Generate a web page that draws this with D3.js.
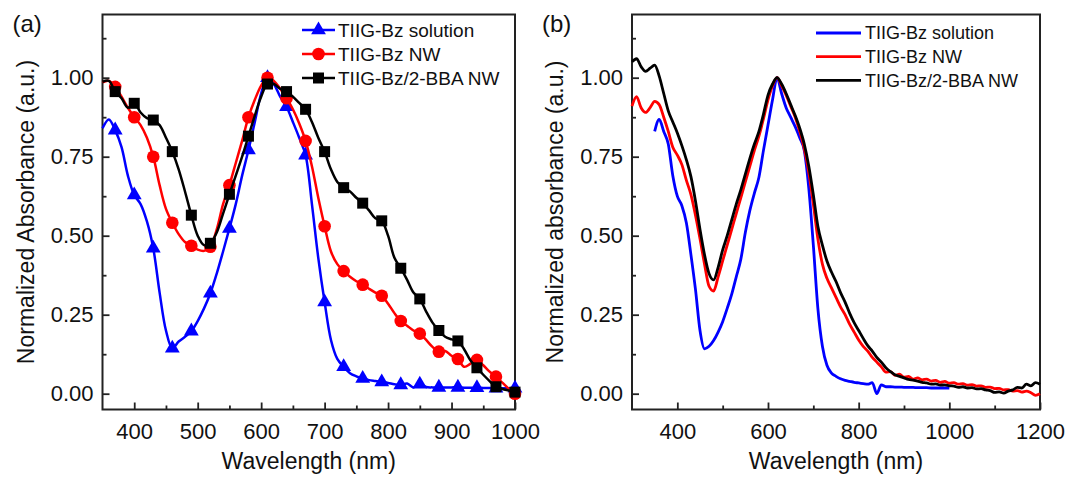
<!DOCTYPE html>
<html>
<head>
<meta charset="utf-8">
<script src="https://cdn.jsdelivr.net/npm/d3@7"></script>
<style>
body { margin: 0; background: #fff; }
svg { font-family: Arial, "Liberation Sans", sans-serif; }
</style>
</head>
<body>
<svg id="chart" width="1067" height="477"></svg>
<script>
// ---- data ----
const seriesNames = ["TIIG-Bz solution", "TIIG-Bz NW", "TIIG-Bz/2-BBA NW"];
const seriesColors = ["#0000ff", "#ff0000", "#000000"];

// panel (a): wavelength grid (nm)
const wlA = [350,360,370,380,390,400,410,420,430,440,450,460,470,480,490,500,510,520,530,540,
  550,560,570,580,590,600,610,620,630,640,650,660,670,680,690,700,710,720,730,740,
  750,760,770,780,790,800,810,820,830,840,850,860,870,880,890,900,910,920,930,940,
  950,960,970,980,990,1000];
const solutionA = [0.84,0.868,0.834,0.78,0.69,0.629,0.6,0.545,0.46,0.32,0.2,0.144,0.165,0.18,0.198,0.23,0.27,0.318,0.38,0.45,
  0.523,0.6,0.69,0.771,0.86,0.95,1.0,0.98,0.94,0.908,0.86,0.81,0.755,0.6,0.43,0.29,0.17,0.11,0.085,0.065,
  0.055,0.048,0.043,0.04,0.037,0.034,0.03,0.028,0.032,0.02,0.03,0.021,0.02,0.02,0.02,0.02,0.02,0.019,0.019,0.019,
  0.018,0.018,0.017,0.017,0.017,0.017];
const nwA = [0.985,0.99,0.971,0.94,0.905,0.875,0.85,0.81,0.75,0.66,0.585,0.541,0.505,0.48,0.468,0.456,0.452,0.465,0.52,0.6,
  0.66,0.73,0.8,0.875,0.93,0.975,1.0,0.99,0.965,0.935,0.9,0.855,0.8,0.72,0.62,0.53,0.45,0.41,0.388,0.37,
  0.356,0.345,0.332,0.32,0.31,0.285,0.255,0.23,0.215,0.2,0.19,0.17,0.148,0.133,0.135,0.12,0.11,0.085,0.095,0.107,
  0.09,0.07,0.054,0.035,0.016,0.0];
const bbaA = [0.987,0.99,0.956,0.935,0.905,0.919,0.89,0.872,0.866,0.85,0.81,0.766,0.71,0.64,0.565,0.5,0.47,0.476,0.51,0.57,
  0.631,0.69,0.75,0.815,0.88,0.94,0.98,0.98,0.965,0.956,0.94,0.92,0.9,0.86,0.81,0.766,0.71,0.67,0.652,0.64,
  0.62,0.603,0.58,0.555,0.547,0.5,0.43,0.397,0.36,0.32,0.3,0.26,0.225,0.2,0.18,0.172,0.167,0.14,0.105,0.082,
  0.06,0.04,0.022,0.015,0.01,0.005];
// wavelengths carrying a symbol
const markerWl = [370,400,430,460,490,520,550,580,610,640,670,700,730,760,790,820,850,880,910,940,970,1000];

// panel (b): wavelength grid (nm)
const wlB = [300,310,320,330,340,350,360,370,380,390,400,410,420,430,440,450,460,470,480,490,
  500,510,520,530,540,550,560,570,580,590,600,610,620,630,640,650,660,670,680,690,
  700,710,720,730,740,750,760,770,780,790,800,810,820,830,840,850,860,870,880,890,
  900,910,920,930,940,950,960,970,980,990,1000,1010,1020,1030,1040,1050,1060,1070,1080,1090,
  1100,1110,1120,1130,1140,1150,1160,1170,1180,1190,1200];
const solutionB = [null,null,null,null,null,0.83,0.868,0.83,0.79,0.69,0.625,0.595,0.54,0.44,0.33,0.2,0.142,0.15,0.168,0.195,
  0.228,0.27,0.315,0.37,0.425,0.51,0.58,0.635,0.685,0.77,0.85,0.93,1.0,0.95,0.905,0.875,0.845,0.81,0.77,0.65,
  0.47,0.27,0.15,0.09,0.065,0.055,0.047,0.042,0.039,0.036,0.034,0.032,0.03,0.035,0.0,0.028,0.022,0.022,0.021,0.021,
  0.02,0.02,0.02,0.019,0.019,0.019,0.018,0.018,0.018,0.018,0.018,null,null,null,null,null,null,null,null,null,
  null,null,null,null,null,null,null,null,null,null,null];
const nwB = [0.91,0.94,0.905,0.89,0.905,0.925,0.915,0.875,0.83,0.78,0.755,0.725,0.675,0.63,0.565,0.49,0.41,0.34,0.325,0.37,
  0.42,0.47,0.52,0.57,0.62,0.67,0.72,0.77,0.815,0.87,0.93,0.975,1.0,0.975,0.945,0.91,0.875,0.83,0.775,0.7,
  0.6,0.49,0.41,0.365,0.335,0.305,0.275,0.25,0.22,0.195,0.17,0.15,0.135,0.115,0.1,0.085,0.068,0.07,0.058,0.062,
  0.052,0.055,0.046,0.05,0.044,0.046,0.04,0.042,0.036,0.039,0.033,0.035,0.03,0.032,0.027,0.029,0.024,0.025,0.02,0.021,
  0.016,0.017,0.012,0.013,0.008,0.01,0.005,0.008,0.003,-0.005,0.0];
const bbaB = [1.05,1.06,1.035,1.02,1.03,1.04,1.005,0.95,0.895,0.86,0.825,0.785,0.74,0.687,0.61,0.52,0.44,0.38,0.36,0.4,
  0.455,0.5,0.55,0.6,0.645,0.695,0.745,0.79,0.83,0.885,0.945,0.98,1.0,0.98,0.95,0.915,0.88,0.84,0.79,0.72,
  0.63,0.53,0.47,0.42,0.385,0.355,0.32,0.29,0.255,0.225,0.2,0.175,0.152,0.135,0.115,0.1,0.082,0.07,0.06,0.055,
  0.05,0.045,0.043,0.04,0.036,0.034,0.03,0.031,0.027,0.028,0.025,0.024,0.02,0.022,0.018,0.019,0.015,0.016,0.012,0.01,
  0.004,0.006,0.002,0.008,0.012,0.02,0.018,0.03,0.025,0.035,0.03];

const yMajor = [0, 0.25, 0.5, 0.75, 1.0];
const yMinor = [0.125, 0.375, 0.625, 0.875, 1.125];
const xMajorA = [400, 500, 600, 700, 800, 900, 1000];
const xMinorA = [450, 550, 650, 750, 850, 950];
const xMajorB = [400, 600, 800, 1000, 1200];
const xMinorB = [500, 700, 900, 1100];

// ---- layout ----
const plotTop = 14.5, plotBottom = 409.5;
const svg = d3.select("#chart");

const y = d3.scaleLinear().domain([-0.05, 1.2]).range([plotBottom, plotTop]);
const xA = d3.scaleLinear().domain([350, 1000]).range([102.5, 515]);
const xB = d3.scaleLinear().domain([300, 1200]).range([632, 1040]);

function drawAxes(x, xMajor, xMinor, yTitle, tag) {
    const [x0, x1] = x.range();
    const g = svg.append("g");

    g.append("g")
        .attr("transform", `translate(0,${plotBottom})`)
        .call(d3.axisBottom(x).tickValues(xMajor).tickSizeInner(-7).tickSizeOuter(0)
            .tickPadding(14).tickFormat(d3.format("d")));
    g.append("g")
        .attr("transform", `translate(0,${plotBottom})`)
        .call(d3.axisBottom(x).tickValues(xMinor).tickSizeInner(-4).tickSizeOuter(0).tickFormat(""));
    g.append("g")
        .attr("transform", `translate(${x0},0)`)
        .call(d3.axisLeft(y).tickValues(yMajor).tickSizeInner(-7).tickSizeOuter(0)
            .tickPadding(9).tickFormat(d3.format(".2f")));
    g.append("g")
        .attr("transform", `translate(${x0},0)`)
        .call(d3.axisLeft(y).tickValues(yMinor).tickSizeInner(-4).tickSizeOuter(0).tickFormat(""));

    g.selectAll(".domain").remove();
    g.selectAll(".tick line").attr("stroke", "#222").attr("stroke-width", 1.8);
    g.selectAll(".tick text").attr("font-size", 22).attr("fill", "#111")
        .attr("font-family", "Arial, 'Liberation Sans', sans-serif");

    g.append("rect")
        .attr("x", x0).attr("y", plotTop)
        .attr("width", x1 - x0).attr("height", plotBottom - plotTop)
        .attr("fill", "none").attr("stroke", "#222").attr("stroke-width", 2);

    svg.append("text")
        .attr("x", (x0 + x1) / 2).attr("y", 469)
        .attr("text-anchor", "middle").attr("font-size", 23).attr("fill", "#111")
        .text("Wavelength (nm)");

    svg.append("text")
        .attr("transform", `translate(${x0 - 69},${(plotTop + plotBottom) / 2}) rotate(-90)`)
        .attr("text-anchor", "middle").attr("font-size", 23).attr("fill", "#111")
        .text(yTitle);

    svg.append("text")
        .attr("x", x0 - 90).attr("y", 32)
        .attr("font-size", 24).attr("fill", "#111")
        .text(tag);
}

drawAxes(xA, xMajorA, xMinorA, "Normalized Absorbance (a.u.)", "(a)");
drawAxes(xB, xMajorB, xMinorB, "Normalized absorbance (a.u.)", "(b)");

// ---- panel (a) curves with symbols ----
const symbolsA = [d3.symbolTriangle, d3.symbolCircle, d3.symbolSquare];
const symbolSize = [95, 125, 121];
const valuesA = [solutionA, nwA, bbaA];

const lineA = d3.line()
    .x(d => xA(d[0])).y(d => y(d[1]))
    .curve(d3.curveCatmullRom.alpha(0.5));

valuesA.forEach((vals, i) => {
    const pts = wlA.map((w, k) => [w, vals[k]]);
    svg.append("path")
        .datum(pts)
        .attr("d", lineA)
        .attr("fill", "none")
        .attr("stroke", seriesColors[i])
        .attr("stroke-width", 2.5)
        .attr("stroke-linejoin", "round");

    const lookup = new Map(pts);
    svg.append("g").selectAll("path")
        .data(markerWl)
        .join("path")
        .attr("transform", w => `translate(${xA(w)},${y(lookup.get(w))})`)
        .attr("d", d3.symbol().type(symbolsA[i]).size(symbolSize[i]))
        .attr("fill", seriesColors[i]);
});

// legend (a)
const legA = svg.append("g").attr("transform", "translate(302,30)");
seriesNames.forEach((name, i) => {
    const row = legA.append("g").attr("transform", `translate(0,${i * 24})`);
    row.append("line").attr("x1", 0).attr("x2", 33).attr("y1", 0).attr("y2", 0)
        .attr("stroke", seriesColors[i]).attr("stroke-width", 2.5);
    row.append("path")
        .attr("transform", "translate(16.5,0)")
        .attr("d", d3.symbol().type(symbolsA[i]).size(symbolSize[i]))
        .attr("fill", seriesColors[i]);
    row.append("text").attr("x", 36).attr("dy", "0.35em")
        .attr("font-size", 19).attr("fill", "#111").text(name);
});

// ---- panel (b) spectra ----
const valuesB = [solutionB, nwB, bbaB];
const lineB = d3.line()
    .defined(d => d[1] !== null)
    .x(d => xB(d[0])).y(d => y(d[1]))
    .curve(d3.curveMonotoneX);

valuesB.forEach((vals, i) => {
    svg.append("path")
        .datum(wlB.map((w, k) => [w, vals[k]]))
        .attr("d", lineB)
        .attr("fill", "none")
        .attr("stroke", seriesColors[i])
        .attr("stroke-width", 2.8)
        .attr("stroke-linejoin", "round");
});

// legend (b)
const legB = svg.append("g").attr("transform", "translate(816,33)");
seriesNames.forEach((name, i) => {
    const row = legB.append("g").attr("transform", `translate(0,${i * 23.7})`);
    row.append("line").attr("x1", 0).attr("x2", 45).attr("y1", 0).attr("y2", 0)
        .attr("stroke", seriesColors[i]).attr("stroke-width", 2.8);
    row.append("text").attr("x", 49).attr("dy", "0.35em")
        .attr("font-size", 18).attr("fill", "#111").text(name);
});
</script>
</body>
</html>
